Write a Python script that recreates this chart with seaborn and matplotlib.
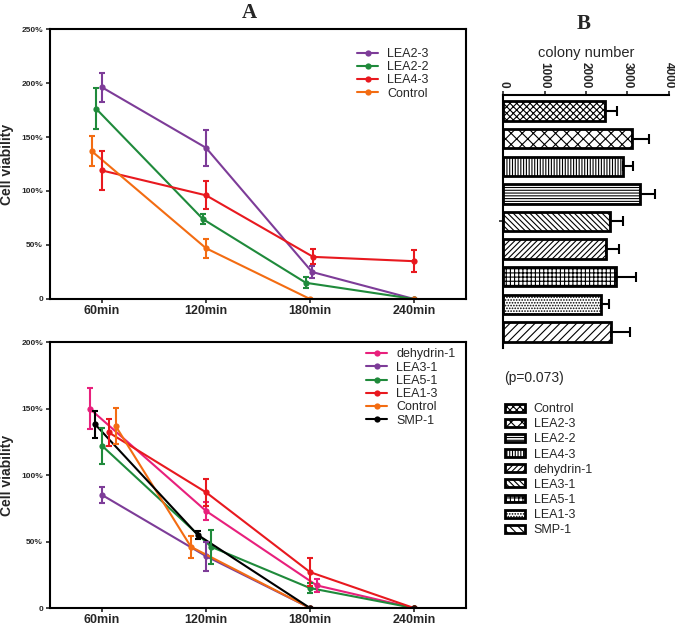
import matplotlib
matplotlib.use('Agg')
import matplotlib.pyplot as plt
import seaborn as sns
import pandas as pd
import numpy as np
from matplotlib.patches import Patch

# ---- data ----
times = ['60min', '120min', '180min', '240min']

top_series = ['LEA2-3', 'LEA2-2', 'LEA4-3', 'Control']
top_mean = {
    'LEA2-3': [196, 140, 25, 0],
    'LEA2-2': [176, 74, 15, 0],
    'LEA4-3': [119, 96, 39, 35],
    'Control': [137, 47, 0, 0],
}
top_err = {
    'LEA2-3': [13.5, 16.5, 6, 0],
    'LEA2-2': [19, 5, 5, 0],
    'LEA4-3': [18, 13, 7, 10],
    'Control': [13.5, 9, 0, 0],
}

bot_series = ['dehydrin-1', 'LEA3-1', 'LEA5-1', 'LEA1-3', 'Control', 'SMP-1']
bot_mean = {
    'dehydrin-1': [150, 73, 17, 0],
    'LEA3-1': [85, 39, 0, 0],
    'LEA5-1': [122, 46, 15, 0],
    'LEA1-3': [132, 87, 27, 0],
    'Control': [137, 46, 0, 0],
    'SMP-1': [138, 55, 0, 0],
}
bot_err = {
    'dehydrin-1': [15.5, 7, 5, 0],
    'LEA3-1': [6, 11, 0, 0],
    'LEA5-1': [13.5, 13, 4, 0],
    'LEA1-3': [10, 10, 10.5, 0],
    'Control': [13.5, 8.5, 0, 0],
    'SMP-1': [10, 3, 0, 0],
}

bar_names = ['Control', 'LEA2-3', 'LEA2-2', 'LEA4-3', 'dehydrin-1',
             'LEA3-1', 'LEA5-1', 'LEA1-3', 'SMP-1']
bar_values = [2450, 3120, 2880, 3310, 2590, 2490, 2730, 2350, 2600]
bar_errors = [300, 400, 260, 360, 300, 300, 480, 210, 460]

# ---- style ----
colors = {'LEA2-3': '#7d3c98', 'LEA2-2': '#1f8a3b', 'LEA4-3': '#e8191f',
          'Control': '#f36c12', 'dehydrin-1': '#e8207c', 'LEA3-1': '#7d3c98',
          'LEA5-1': '#1f8a3b', 'LEA1-3': '#e8191f', 'SMP-1': '#000000'}
# small horizontal dodge of the points, as in the original figure
top_dodge = {'LEA2-3': [0, 0, 0.02, 0], 'LEA2-2': [-0.055, -0.03, -0.04, 0],
             'LEA4-3': [0, 0, 0.03, 0], 'Control': [-0.1, 0, 0, 0]}
bot_dodge = {'dehydrin-1': [-0.12, 0, 0.065, 0], 'LEA3-1': [0, 0, 0, 0],
             'LEA5-1': [0, 0.05, 0, 0], 'LEA1-3': [0.065, 0, 0, 0],
             'Control': [0.13, -0.145, 0, 0], 'SMP-1': [-0.065, -0.08, 0, 0]}
bar_hatches = ['xxxxx', 'xxx', '||||||', '------', '\\\\\\\\\\\\',
               '//////', '++++', '......', '////']

sns.set_style('ticks')
plt.rcParams['font.family'] = ['Liberation Sans', 'DejaVu Sans']
plt.rcParams['hatch.linewidth'] = 0.8

fig = plt.figure(figsize=(6.75, 6.28), dpi=100)
ax1 = fig.add_axes([0.0741, 0.5239, 0.6163, 0.4299])
ax2 = fig.add_axes([0.0741, 0.0318, 0.6163, 0.4236])
ax3 = fig.add_axes([0.7452, 0.4459, 0.2459, 0.4028])


def line_panel(ax, series, means, errs, dodge, ymax, legend_x):
    rows = []
    for s in series:
        for i, t in enumerate(times):
            rows.append({'series': s, 'x': i + dodge[s][i],
                         'value': means[s][i], 'err': errs[s][i]})
    df = pd.DataFrame(rows)
    sns.lineplot(data=df, x='x', y='value', hue='series', hue_order=series,
                 palette=colors, marker='o', markersize=4.5, markeredgewidth=0,
                 linewidth=1.5, ax=ax, sort=False)
    for s in series:
        d = df[df['series'] == s]
        ax.errorbar(d['x'], d['value'], yerr=d['err'], fmt='none',
                    ecolor=colors[s], elinewidth=1.5, capsize=2.5, capthick=1.5)
    ax.set_xlim(-0.5, 3.5)
    ax.set_ylim(0, ymax)
    ax.set_xticks(range(len(times)))
    ax.set_xticklabels(times, fontsize=9, fontweight='bold')
    yt = np.arange(0, ymax + 1, 50)
    ax.set_yticks(yt)
    ax.set_yticklabels(['0'] + [f'{v}%' for v in yt[1:]], fontsize=6,
                       fontweight='bold')
    ax.set_xlabel('')
    ax.set_ylabel('Cell viability', fontsize=10, fontweight='bold')
    ax.yaxis.set_label_coords(-0.087, 0.5)
    for sp in ax.spines.values():
        sp.set_visible(True)
        sp.set_linewidth(1.5)
        sp.set_color('black')
    ax.tick_params(length=3, width=1.2, pad=2)
    ax.tick_params(axis='x', pad=1.5)
    h, l = ax.get_legend_handles_labels()
    ax.legend(h, l, loc='upper left', bbox_to_anchor=legend_x, frameon=False,
              fontsize=9, borderpad=0, borderaxespad=0, handlelength=1.7,
              handletextpad=0.7, labelspacing=0.1)


line_panel(ax1, top_series, top_mean, top_err, top_dodge, 250, (0.738, 0.93))
line_panel(ax2, bot_series, bot_mean, bot_err, bot_dodge, 200, (0.76, 0.976))

# ---- panel B ----
bdf = pd.DataFrame({'name': bar_names, 'value': bar_values})
sns.barplot(data=bdf, y='name', x='value', orient='h', order=bar_names,
            color='white', width=0.7, ax=ax3, errorbar=None)
ys = []
for p, h in zip(ax3.patches, bar_hatches):
    p.set_facecolor('white')
    p.set_edgecolor('black')
    p.set_linewidth(2)
    p.set_hatch(h)
    ys.append(p.get_y() + p.get_height() / 2)
ax3.errorbar(bar_values, ys, xerr=[np.zeros(len(bar_errors)), bar_errors],
             fmt='none', ecolor='black', elinewidth=1.5, capsize=3.5, capthick=1.5)
ax3.set_xlim(0, 4000)
ax3.set_ylim(8.58, -0.58)
ax3.xaxis.set_ticks_position('top')
ax3.xaxis.set_label_position('top')
ax3.set_xticks([0, 1000, 2000, 3000, 4000])
ax3.set_xticklabels(['0', '1000', '2000', '3000', '4000'], rotation=-90,
                    fontsize=8.5, fontweight='bold')
ax3.set_xlabel('colony number', fontsize=10.5, labelpad=3)
ax3.set_yticks([4])
ax3.set_yticklabels([''])
ax3.set_ylabel('')
for k in ['right', 'bottom']:
    ax3.spines[k].set_visible(False)
for k in ['top', 'left']:
    ax3.spines[k].set_visible(True)
    ax3.spines[k].set_linewidth(1.5)
    ax3.spines[k].set_color('black')
ax3.tick_params(length=3, width=1.2, pad=2)


def rot(h):
    # legend swatches are drawn unrotated
    return h.translate(str.maketrans({'/': '\\', '\\': '/', '|': '-', '-': '|'}))


handles = [Patch(facecolor='white', edgecolor='black', linewidth=2, hatch=rot(h))
           for h in bar_hatches]
fig.legend(handles, bar_names, loc='upper left', bbox_to_anchor=(0.748, 0.358),
           frameon=False, fontsize=9, handlelength=1.6, handleheight=0.6,
           handletextpad=0.7, labelspacing=0.25, borderpad=0, borderaxespad=0)
fig.text(0.747, 0.398, '(p=0.073)', fontsize=10, va='center', ha='left')

fig.text(0.370, 0.98, 'A', fontsize=15, fontweight='bold', ha='center',
         va='center', family=['Liberation Serif', 'DejaVu Serif'])
fig.text(0.864, 0.962, 'B', fontsize=15, fontweight='bold', ha='center',
         va='center', family=['Liberation Serif', 'DejaVu Serif'])

fig.savefig('out.png', dpi=100)
